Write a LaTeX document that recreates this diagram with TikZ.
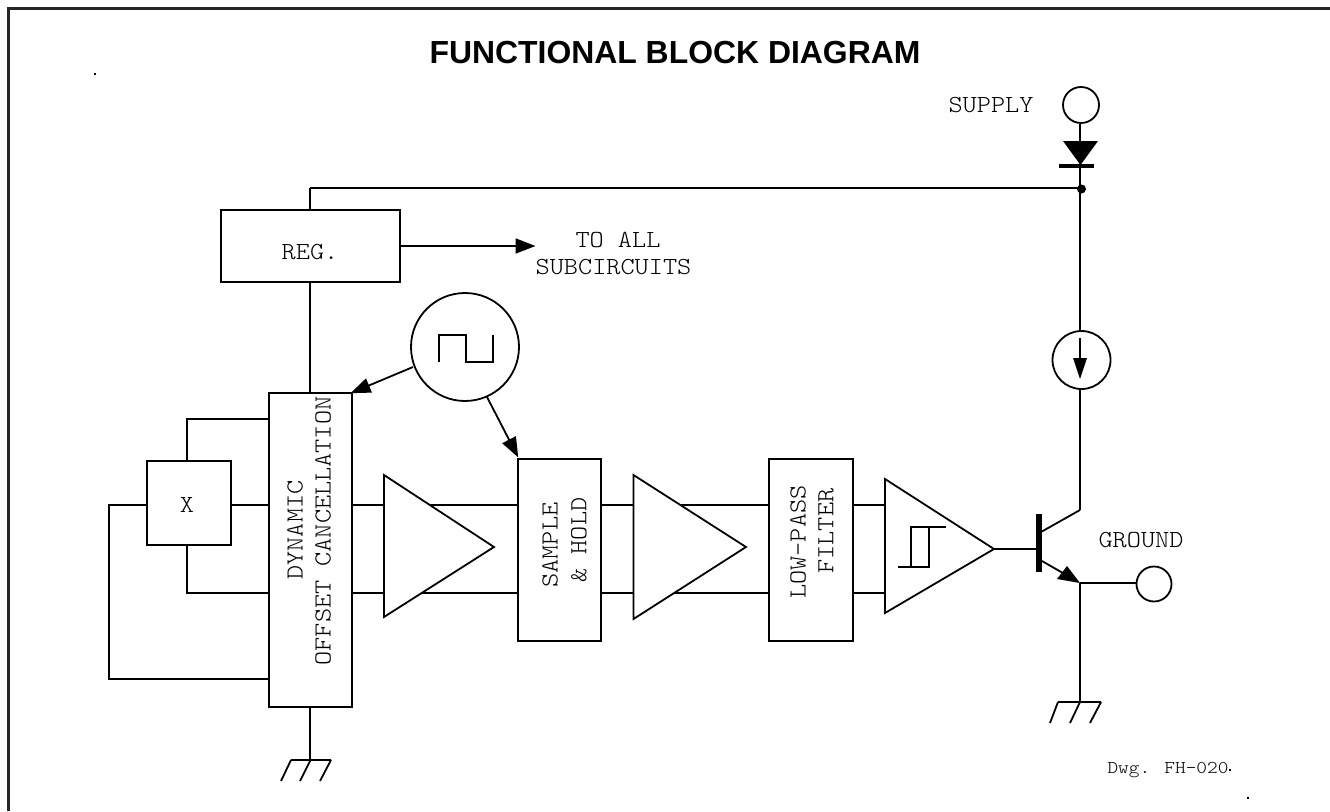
\documentclass[tikz,border=0pt]{standalone}
\usepackage{fontspec}
\setmainfont{Liberation Sans}
\newfontfamily\refmono{Latin Modern Mono Light}[FakeStretch=1.1]
\newfontfamily\refmonosmall{Latin Modern Mono Light}[FakeStretch=1.13]
\usetikzlibrary{arrows.meta}
\newcommand{\dtext}{\refmono\fontsize{24.5}{28}\selectfont}
\newcommand{\stext}{\refmonosmall\fontsize{18}{20}\selectfont}
\tikzset{
  wire/.style={line width=1.8pt,black},
  blockbox/.style={draw,line width=1.8pt,fill=white,inner sep=0pt},
  pin/.style={draw,circle,line width=1.8pt,fill=white,inner sep=0pt},
  amp/.style={draw,line width=1.8pt,fill=white,line join=miter},
  lab/.style={inner sep=0pt,font=\dtext,align=center},
  vlab/.style={inner sep=0pt,font=\dtext,align=center,rotate=90},
  head/.style={fill=black,draw=none},
  speck/.style={fill=black,draw=none,inner sep=0pt,minimum width=2pt,minimum height=1.2pt},
  arr/.style={line width=1.8pt,-{Triangle[length=20pt,width=15pt]},shorten >=-0.5pt}
}
\begin{document}
\begin{tikzpicture}[x=1pt,y=-1pt]
\useasboundingbox (0,0) rectangle (1330,811);
% frame
\draw[line width=2.2pt,draw=black!85] (8.5,811) -- (8.5,8.5) -- (1330,8.5);
% title
\node[inner sep=0pt,font=\fontsize{31.9}{34}\selectfont\bfseries] (title) at (675,53) {FUNCTIONAL BLOCK DIAGRAM};
\node[speck] (s1) at (95,74) {};
\node[speck] (s2) at (1248,798) {};
\node[speck] (s3) at (1230,770) {};
% coordinates
\coordinate (jn) at (1080,188);
\coordinate (regtop) at (310,188);
\coordinate (ej) at (1080,583);
\coordinate (ct) at (1080,510);
% blocks
\node[blockbox,minimum width=179pt,minimum height=72pt] (reg) at (310.5,246) {};
\node[blockbox,minimum width=83pt,minimum height=314pt] (doc) at (310.5,550) {};
\node[blockbox,minimum width=84pt,minimum height=84pt] (xb) at (189,503) {};
\node[blockbox,minimum width=83pt,minimum height=182pt] (sh) at (559.5,550) {};
\node[blockbox,minimum width=84pt,minimum height=182pt] (lp) at (811,550) {};
% pins
\node[pin,minimum size=36pt] (sup) at (1081,105) {};
\node[pin,minimum size=35pt] (gnd) at (1154,584) {};
\node[pin,minimum size=58pt] (cs) at (1081.5,360) {};
\node[pin,minimum size=108pt] (clk) at (465,347) {};
% supply
\draw[wire] (sup.south -| jn) -- (cs.north -| jn);
\draw[wire] (regtop) -- (jn);
\draw[wire] (regtop) -- (regtop |- reg.north);
\fill[black] (1081.5,189) circle (4.5pt);
\node[coordinate] (dtip) at (1080.5,165) {};
\fill[head] (1063,141) -- (1098,141) -- (dtip) -- cycle;
\draw[line width=3.2pt] (1059,166) -- (1094,166);
\draw[wire] (cs.south -| ct) -- (ct);
% current arrow
\draw[wire] (1080,338) -- (1080,360);
\fill[head] (1073,358) -- (1087,358) -- (1080,379) -- cycle;
% reg wires
\draw[wire] (reg.south -| regtop) -- (doc.north -| regtop);
\draw[arr] (reg.east |- 0,246) -- (535,246);
\draw[wire] (doc.south -| regtop) -- (310,760);
% grounds
\draw[wire] (291,760) -- (331,760) (291,760) -- (281,781) (310.5,760) -- (300,781) (331,760) -- (320,781);
\draw[wire] (1058,702) -- (1101,702) (1058,702) -- (1050,723) (1080,702) -- (1070,723) (1101,702) -- (1090,723);
% x wires
\draw[wire] (xb.north -| 187,0) -- (187,419) -- (doc.west |- 0,419);
\draw[wire] (xb.south -| 187,0) -- (187,593) -- (doc.west |- 0,593);
\draw[wire] (xb.east |- 0,505) -- (doc.west |- 0,505);
\draw[wire] (xb.west |- 0,505) -- (109,505) -- (109,680);
\draw[wire] (108.3,679) -- (doc.west |- 0,679);
% signal wires
\draw[wire] (doc.east |- 0,505) -- (sh.west |- 0,505);
\draw[wire] (doc.east |- 0,593) -- (sh.west |- 0,593);
\draw[wire] (sh.east |- 0,505) -- (lp.west |- 0,505);
\draw[wire] (sh.east |- 0,593) -- (lp.west |- 0,593);
\draw[wire] (lp.east |- 0,505) -- (885,505);
\draw[wire] (lp.east |- 0,593) -- (885,593);
% amps
\draw[amp] (384,475) -- (494,547) -- (384,617) -- cycle;
\draw[amp] (633.5,475) -- (746,547) -- (633.5,619) -- cycle;
\draw[amp] (885,479) -- (994,549) -- (885,613) -- cycle;
% hysteresis
\draw[wire] (898,567) -- (929,567) -- (929,527) -- (946,527);
\draw[wire] (911,567) -- (911,527) -- (929,527);
% clock
\draw[wire] (439.3,362) -- (439.3,335) -- (466,335) -- (466,361.7) -- (492.7,361.7) -- (492.7,335);
\draw[arr] (413,367) -- (351,393);
\draw[arr] (487,397) -- (518,457);
% transistor
\draw[wire] (994,549) -- (1040,549);
\draw[line width=6pt] (1038.5,514) -- (1038.5,572);
\draw[wire] (1041,532) -- (ct);
\draw[wire] (1042,561) -- (1068,576);
\fill[head] (1067,566) -- (1057,579) -- (ej) -- cycle;
\draw[wire] (ej) -- (gnd.west |- ej);
\draw[wire] (ej) -- (1080,702);
% labels
\node[lab] (lsup) at (991,105) {SUPPLY};
\node[lab] (lreg) at (310,252) {REG.};
\node[lab] (lto) at (618,240) {TO ALL};
\node[lab] (lsub) at (613.5,267) {SUBCIRCUITS};
\node[lab] (lgnd) at (1141,540) {GROUND};
\node[lab] (lx) at (187,505) {X};
\node[vlab] (l1) at (295,530) {DYNAMIC};
\node[vlab] (l2) at (323,531) {OFFSET CANCELLATION};
\node[vlab] (l3) at (550,545) {SAMPLE};
\node[vlab] (l4) at (579,540) {\& HOLD};
\node[vlab] (l5) at (798,542) {LOW-PASS};
\node[vlab] (l6) at (826,531) {FILTER};
\node[inner sep=0pt,font=\stext] (ldwg) at (1168,770) {Dwg. FH-020};
\end{tikzpicture}
\end{document}
